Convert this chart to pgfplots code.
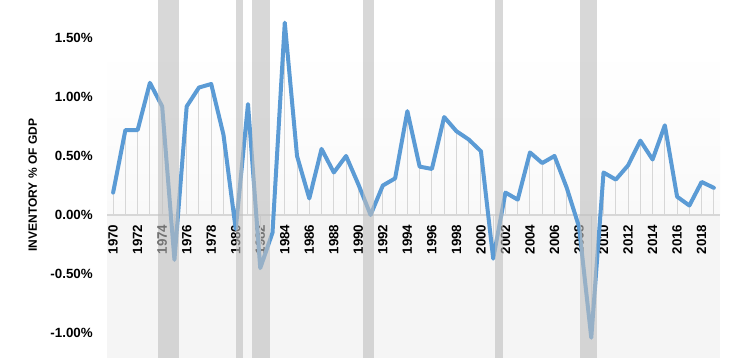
\documentclass[border=0pt]{standalone}
\usepackage{fontspec}
\setmainfont{Liberation Sans}
\usepackage{pgfplots}
\usepackage{pgfplotstable}
\pgfplotsset{compat=1.18}
\definecolor{lineblue}{RGB}{91,155,213}
\definecolor{recgray}{RGB}{190,190,190}
\definecolor{dropgray}{RGB}{215,215,215}
\definecolor{bggray}{RGB}{245,245,245}
\pgfplotstableread{
year val
1970 0.19
1971 0.72
1972 0.72
1973 1.12
1974 0.92
1975 -0.38
1976 0.92
1977 1.08
1978 1.11
1979 0.68
1980 -0.12
1981 0.94
1982 -0.45
1983 -0.15
1984 1.63
1985 0.50
1986 0.14
1987 0.56
1988 0.36
1989 0.50
1990 0.26
1991 0.00
1992 0.25
1993 0.31
1994 0.88
1995 0.41
1996 0.39
1997 0.83
1998 0.71
1999 0.64
2000 0.54
2001 -0.37
2002 0.19
2003 0.13
2004 0.53
2005 0.44
2006 0.50
2007 0.23
2008 -0.10
2009 -1.04
2010 0.36
2011 0.30
2012 0.42
2013 0.63
2014 0.47
2015 0.76
2016 0.155
2017 0.08
2018 0.28
2019 0.23
}\datatable
\pgfplotsset{base/.style={
  scale only axis,
  width=459.75pt, height=268.5pt,
  xmin=1969.5, xmax=2019.5,
  ymin=-1.212, ymax=1.822}}
\begin{document}
\begin{tikzpicture}
\begin{axis}[base, hide axis]
\addplot[draw=none, fill=bggray] coordinates {(1969.5,0) (1969.5,-1.3) (2019.5,-1.3) (2019.5,0)} -- cycle;
\addplot[draw=none, top color=white, bottom color=bggray!60] coordinates {(1969.5,0) (1969.5,1.42) (2019.5,1.42) (2019.5,0)} -- cycle;
\end{axis}
\begin{axis}[
  base,
  name=ax,
  axis x line*=middle,
  axis y line*=left,
  x axis line style={draw=dropgray, line width=1.1pt},
  y axis line style={draw=none},
  major tick length=0pt,
  xtick={1970,1972,1974,1976,1978,1980,1982,1984,1986,1988,1990,1992,1994,1996,1998,2000,2002,2004,2006,2008,2010,2012,2014,2016,2018},
  xticklabels={1970,1972,1974,1976,1978,1980,1982,1984,1986,1988,1990,1992,1994,1996,1998,2000,2002,2004,2006,2008,2010,2012,2014,2016,2018},
  xticklabel style={rotate=90, anchor=east, inner sep=7pt, font=\fontsize{10}{12}\selectfont\bfseries},
  ytick={-1,-0.5,0,0.5,1,1.5},
  yticklabels={-1.00\%,-0.50\%,0.00\%,0.50\%,1.00\%,1.50\%},
  yticklabel style={anchor=east, inner sep=0pt, xshift=-10.5pt, font=\fontsize{10}{12}\selectfont\bfseries},
  ylabel={INVENTORY \% OF GDP},
  ylabel style={at={(ticklabel cs:0.483,10pt)}, anchor=south, inner sep=0pt, font=\fontsize{9}{11}\selectfont\bfseries},
]
\addplot[ycomb, draw=dropgray, line width=0.75pt] table[x=year, y=val] {\datatable};
\addplot[color=lineblue, line width=3pt, line join=round, line cap=round] table[x=year, y=val] {\datatable};
\end{axis}
\begin{axis}[base, hide axis]
\addplot[draw=none, fill=recgray, fill opacity=0.6] coordinates {(1973.7,-1.3) (1973.7,2) (1975.4,2) (1975.4,-1.3)} -- cycle;
\addplot[draw=none, fill=recgray, fill opacity=0.6] coordinates {(1980.0,-1.3) (1980.0,2) (1980.6,2) (1980.6,-1.3)} -- cycle;
\addplot[draw=none, fill=recgray, fill opacity=0.6] coordinates {(1981.33,-1.3) (1981.33,2) (1982.8,2) (1982.8,-1.3)} -- cycle;
\addplot[draw=none, fill=recgray, fill opacity=0.6] coordinates {(1990.37,-1.3) (1990.37,2) (1991.27,2) (1991.27,-1.3)} -- cycle;
\addplot[draw=none, fill=recgray, fill opacity=0.6] coordinates {(2001.13,-1.3) (2001.13,2) (2001.8,2) (2001.8,-1.3)} -- cycle;
\addplot[draw=none, fill=recgray, fill opacity=0.6] coordinates {(2008.06,-1.3) (2008.06,2) (2009.45,2) (2009.45,-1.3)} -- cycle;
\end{axis}
\pgfresetboundingbox
\path[use as bounding box] ([xshift=-80.25pt]ax.south west) rectangle ([xshift=18.75pt]ax.north east);
\end{tikzpicture}
\end{document}
